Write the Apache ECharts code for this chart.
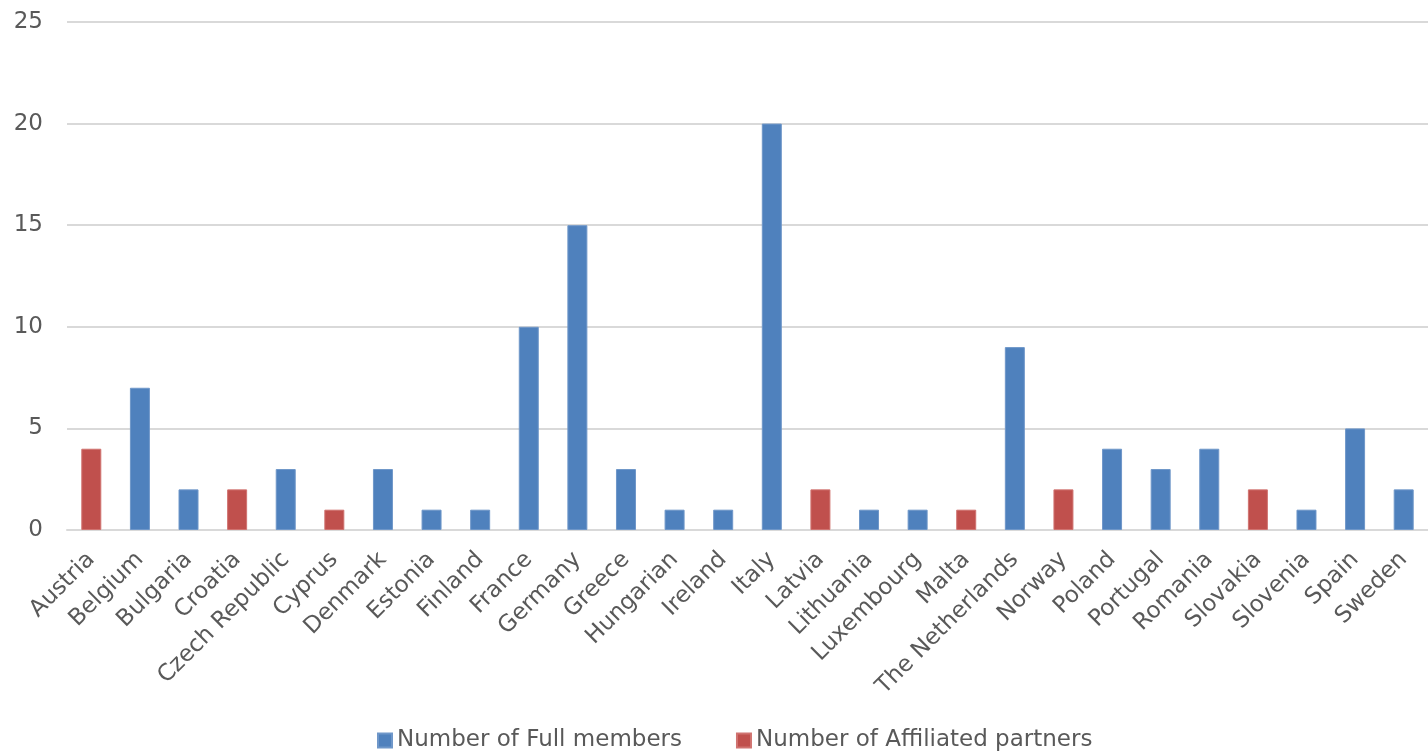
<!DOCTYPE html>
<html>
<head>
<meta charset="utf-8">
<script src="https://cdn.jsdelivr.net/npm/echarts@6/dist/echarts.min.js"></script>
<style>
  html, body { margin: 0; padding: 0; background: #fff; }
  #chart { width: 1428px; height: 754px; }
</style>
</head>
<body>
<div id="chart"></div>
<script>
// category names as printed under the axis
const countries = [
  'Austria', 'Belgium', 'Bulgaria', 'Croatia', 'Czech Republic', 'Cyprus', 'Denmark',
  'Estonia', 'Finland', 'France', 'Germany', 'Greece', 'Hungarian', 'Ireland', 'Italy',
  'Latvia', 'Lithuania', 'Luxembourg', 'Malta', 'The Netherlands', 'Norway', 'Poland',
  'Portugal', 'Romania', 'Slovakia', 'Slovenia', 'Spain', 'Sweden'
]
// null where a country has no bar of that kind
const fullMembers = [
  null, 7, 2, null, 3, null, 3,
  1, 1, 10, 15, 3, 1, 1, 20,
  null, 1, 1, null, 9, null, 4,
  3, 4, null, 1, 5, 2
]
const affiliatedPartners = [
  4, null, null, 2, null, 1, null,
  null, null, null, null, null, null, null, null,
  2, null, null, 1, null, 2, null,
  null, null, 2, null, null, null
]
const yTicks = [0, 5, 10, 15, 20, 25]

const labelColor = '#595959'
const fontFamily = 'DejaVu Sans'
const fontSize = 23

const chart = echarts.init(document.getElementById('chart'))
chart.setOption({
  animation: false,
  textStyle: { fontFamily: fontFamily },
  grid: {
    left: 67,
    right: -13,
    top: 22,
    bottom: 224
  },
  legend: {
    left: 372,
    bottom: -3,
    itemWidth: 14,
    itemHeight: 14,
    itemGap: 54,
    icon: 'rect',
    textStyle: { color: labelColor, fontSize: fontSize, fontFamily: fontFamily },
    data: ['Number of Full members', 'Number of Affiliated partners']
  },
  xAxis: {
    type: 'category',
    data: countries,
    axisLine: { lineStyle: { color: '#D9D9D9', width: 2 } },
    axisTick: { show: false },
    axisLabel: {
      interval: 0,
      rotate: 45,
      margin: 26,
      color: labelColor,
      fontSize: fontSize,
      fontFamily: fontFamily
    }
  },
  yAxis: {
    type: 'value',
    min: yTicks[0],
    max: yTicks[yTicks.length - 1],
    interval: 5,
    axisLine: { show: false },
    axisTick: { show: false },
    axisLabel: { color: labelColor, fontSize: fontSize, margin: 24, fontFamily: fontFamily },
    splitLine: { lineStyle: { color: '#D9D9D9', width: 2 } }
  },
  series: [
    {
      name: 'Number of Full members',
      type: 'bar',
      stack: 'all',
      barWidth: 20,
      data: fullMembers,
      itemStyle: { color: '#4F81BD', borderColor: '#6F97C9', borderWidth: 1 }
    },
    {
      name: 'Number of Affiliated partners',
      type: 'bar',
      stack: 'all',
      barWidth: 20,
      data: affiliatedPartners,
      itemStyle: { color: '#C0504D', borderColor: '#D07370', borderWidth: 1 }
    }
  ]
})
</script>
</body>
</html>
